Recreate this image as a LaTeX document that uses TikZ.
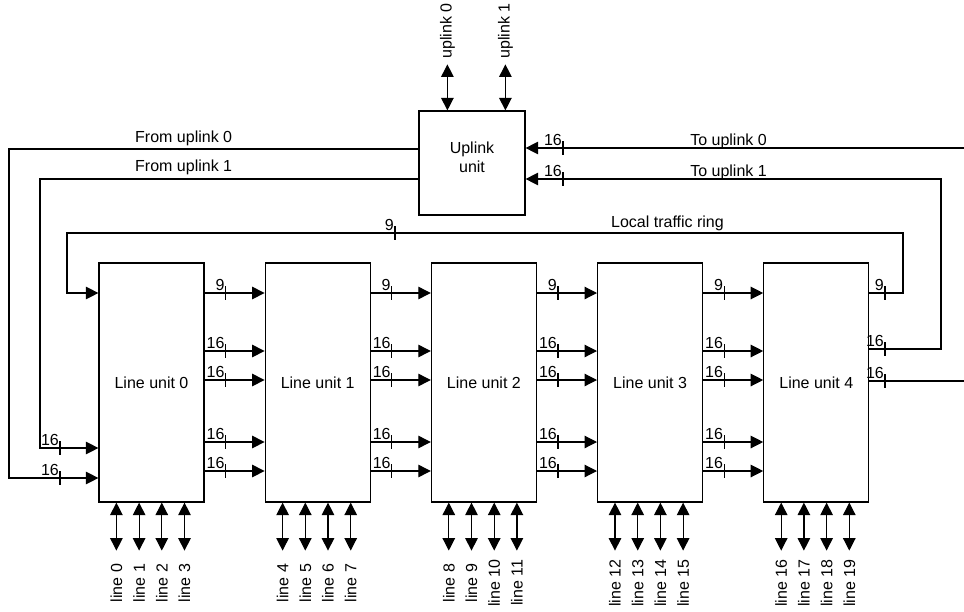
\documentclass[tikz,border=0pt]{standalone}
\usepackage{fontspec}
\setmainfont{Liberation Sans}
\usetikzlibrary{arrows.meta,positioning,calc}
\definecolor{lnedge}{RGB}{0,0,0}
\tikzset{
  unit/.style={
    draw=lnedge, line width=1.2pt, align=center, inner sep=0pt,
    minimum width=105pt, minimum height=239pt
  },
  wire/.style={draw=lnedge, line width=1.2pt},
  arr/.style={wire, -{Triangle[length=12.5pt,width=12.5pt]}},
  darr/.style={wire, {Triangle[length=12.5pt,width=12.5pt]}-{Triangle[length=12.5pt,width=12.5pt]}},
  lab/.style={inner sep=0pt, font=\fontsize{16}{19}\selectfont},
  bw/.pic={
    \draw[wire, -] (0,-7) -- (0,7);
    \node[lab, anchor=south east] at (-1,-2) {#1};
  },
  every picture/.append style={font=\fontsize{16}{19}\selectfont, line join=miter}
}
\begin{document}
\begin{tikzpicture}[x=1pt, y=-1pt]
  \useasboundingbox (0,0) rectangle (964,611);
  % line units
  \node[unit] (lu0) at (151.5,382.5) {Line unit 0};
  \foreach \i [remember=\i as \j (initially 0)] in {1,...,4}
    \node[unit, right=60pt of lu\j] (lu\i) {Line unit \i};
  % uplink unit
  \node[unit, minimum width=106pt, minimum height=104pt, text depth=12pt] (upl) at (472,163) {Uplink\\unit};
  \foreach \k/\dx in {0/29,1/87} {
    \draw[darr] ([xshift=\dx pt]upl.north west) -- ++(0,-46) coordinate (up\k);
    \node[lab, rotate=90] at (up\k |- 0,31) {uplink \k};
  }
  % line ports
  \foreach \i in {0,...,4}
    \foreach \k in {0,...,3} {
      \pgfmathtruncatemacro\n{4*\i+\k}
      \pgfmathsetmacro\dx{18+22.7*\k}
      \draw[darr] ([xshift=\dx pt]lu\i.south west) -- ++(0,48) coordinate (ln\n);
      \node[lab, rotate=90] at (ln\n |- 0,583) {line \n};
    }
  % unit to unit
  \foreach \i [evaluate=\i as \j using int(\i+1)] in {0,...,3}
    \foreach \y/\w in {293/9, 351/16, 380/16, 442/16, 471/16} {
      \draw[arr] (lu\i.east |- 0,\y) -- (lu\j.west |- 0,\y);
      \pic at ($(lu\i.east |- 0,\y)+(21,0)$) {bw=\w};
    }
  % from uplink
  \draw[arr] (upl.west |- 0,149) -- (9,149) -- (9,478) -- (lu0.west |- 0,478);
  \pic at (60,478) {bw=16};
  \draw[arr] (upl.west |- 0,179) -- (40,179) -- (40,448) -- (lu0.west |- 0,448);
  \pic at (60,448) {bw=16};
  \node[lab, anchor=base west] at (135,142) {From uplink 0};
  \node[lab, anchor=base west] at (135,171) {From uplink 1};
  % local traffic ring
  \draw[arr] (lu4.east |- 0,293) -- (903,293) -- (903,233) -- (67,233) -- (67,293) -- (lu0.west |- 0,293);
  \pic at (885,293) {bw=9};
  \pic at (395,233) {bw=9};
  \node[lab, anchor=base east] at (724,227) {Local traffic ring};
  % to uplink
  \draw[arr] (lu4.east |- 0,381) -- (966,381) -- (966,148) -- (upl.east |- 0,148);
  \pic at (885,381) {bw=16};
  \pic at (563,148) {bw=16};
  \draw[arr] (lu4.east |- 0,349) -- (941,349) -- (941,179) -- (upl.east |- 0,179);
  \pic at (885,349) {bw=16};
  \pic at (563,179) {bw=16};
  \node[lab, anchor=base east] at (767,145) {To uplink 0};
  \node[lab, anchor=base east] at (767,176) {To uplink 1};
\end{tikzpicture}
\end{document}
